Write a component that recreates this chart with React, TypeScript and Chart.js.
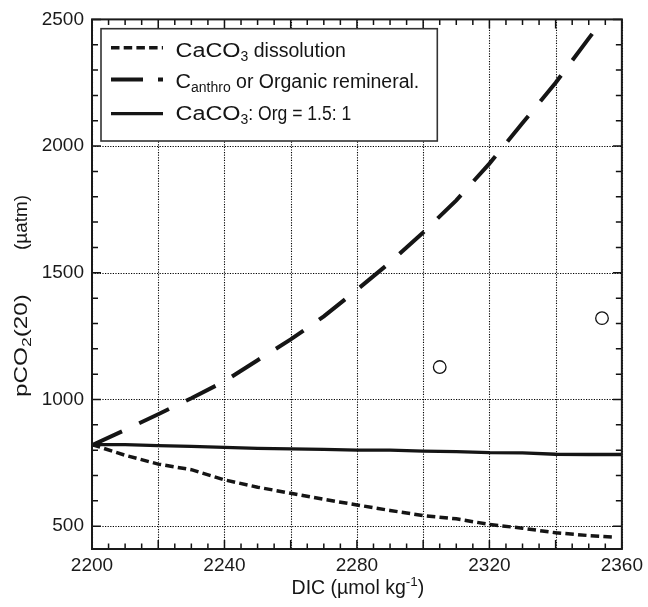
import { useEffect, useRef } from 'react';
import { Chart, registerables } from 'chart.js';

Chart.register(...registerables);

// DIC (µmol kg-1) steps shared by the two full-length model curves
const dicModel = [2200, 2210, 2220, 2230, 2240, 2250, 2260, 2270, 2280, 2290, 2300, 2310, 2320, 2330, 2340, 2350, 2360];
// pCO2(20) when adding Canthro or organic remineralisation
const pco2Anthro = [820, 880, 942, 1005, 1072, 1155, 1237, 1328, 1433, 1541, 1659, 1786, 1931, 2091, 2250, 2425, 2600];
// pCO2(20) for CaCO3 : Org = 1.5 : 1
const pco2Mixed = [822, 822, 818, 815, 811, 807, 805, 803, 800, 800, 796, 794, 790, 789, 784, 783, 783];

// CaCO3 dissolution curve (stops just short of the axis end)
const dicDissolution = [2200, 2210, 2220, 2230, 2240, 2250, 2260, 2270, 2280, 2290, 2300, 2310, 2320, 2330, 2340, 2350, 2358];
const pco2Dissolution = [822, 780, 745, 723, 683, 654, 630, 606, 584, 562, 542, 529, 507, 492, 474, 463, 457];

// Observed samples
const dicObserved = [2305, 2354];
const pco2Observed = [1128, 1321];

// Axes
const xMin = 2200;
const xMax = 2360;
const yMin = 410;
const yMax = 2500;
const xGrid = [2200, 2220, 2240, 2260, 2280, 2300, 2320, 2340, 2360];
const xLabels = [2200, 2240, 2280, 2320, 2360];
const yGrid = [500, 1000, 1500, 2000, 2500];
const xMinorStep = 5;
const xMajorStep = 20;
const yMinorStep = 100;
const yMajorStep = 500;

type Run = { text: string; size: number; dy?: number; sx?: number };

// Legend rows: rich text with sub/superscripts
const legendRows: Run[][] = [
  [
    { text: 'CaCO', size: 19.5, sx: 1.2 },
    { text: '3', size: 14, dy: 4.3 },
    { text: ' dissolution', size: 19.5 },
  ],
  [
    { text: 'C', size: 19.5, sx: 1.1 },
    { text: 'anthro', size: 14, dy: 3.6 },
    { text: ' or Organic remineral.', size: 19.5 },
  ],
  [
    { text: 'CaCO', size: 19.5, sx: 1.2 },
    { text: '3', size: 14, dy: 4.3 },
    { text: ': Org = 1.5: 1', size: 19.5, sx: 0.9 },
  ],
];

const xTitle: Run[] = [
  { text: 'DIC (µmol kg', size: 19.5 },
  { text: '-1', size: 13.5, dy: -7.5 },
  { text: ')', size: 19.5 },
];
const yTitleMain: Run[] = [
  { text: 'pCO', size: 18, sx: 1.35 },
  { text: '2', size: 13, dy: 4, sx: 1.35 },
  { text: '(20)', size: 18, sx: 1.35 },
];
const yTitleUnit: Run[] = [{ text: '(µatm)', size: 18, sx: 1.05 }];

const FONT = '"Liberation Sans", Arial, Helvetica, sans-serif';
const INK = '#151515';

function runsWidth(ctx: CanvasRenderingContext2D, runs: Run[]) {
  let w = 0;
  for (const r of runs) {
    ctx.font = `${r.size}px ${FONT}`;
    w += ctx.measureText(r.text).width * (r.sx ?? 1);
  }
  return w;
}

function drawRuns(ctx: CanvasRenderingContext2D, runs: Run[], x: number, y: number) {
  let cx = x;
  for (const r of runs) {
    ctx.font = `${r.size}px ${FONT}`;
    const sx = r.sx ?? 1;
    ctx.save();
    ctx.translate(cx, y + (r.dy ?? 0));
    ctx.scale(sx, 1);
    ctx.fillText(r.text, 0, 0);
    ctx.restore();
    cx += ctx.measureText(r.text).width * sx;
  }
  return cx;
}

const chartDecor = {
  id: 'chartDecor',
  beforeDatasetsDraw(chart: any) {
    const { ctx, chartArea, scales } = chart;
    const { left, right, top, bottom } = chartArea;
    ctx.save();
    ctx.strokeStyle = '#000';
    ctx.lineWidth = 1.1;
    ctx.setLineDash([1.2, 1.4]);
    for (const v of xGrid) {
      const px = Math.round(scales.x.getPixelForValue(v)) + 0.5;
      ctx.beginPath();
      ctx.moveTo(px, top);
      ctx.lineTo(px, bottom);
      ctx.stroke();
    }
    for (const v of yGrid) {
      const py = Math.round(scales.y.getPixelForValue(v)) + 0.5;
      ctx.beginPath();
      ctx.moveTo(left, py);
      ctx.lineTo(right, py);
      ctx.stroke();
    }
    ctx.restore();
  },
  afterDatasetsDraw(chart: any) {
    const { ctx, chartArea, scales } = chart;
    const { left, right, top, bottom } = chartArea;
    ctx.save();

    // inward tick marks on all four sides
    ctx.strokeStyle = '#111';
    ctx.lineWidth = 1.5;
    ctx.setLineDash([]);
    for (let v = xMin; v <= xMax; v += xMinorStep) {
      const px = scales.x.getPixelForValue(v);
      const len = v % xMajorStep === 0 ? 9 : 5.5;
      ctx.beginPath();
      ctx.moveTo(px, bottom);
      ctx.lineTo(px, bottom - len);
      ctx.moveTo(px, top);
      ctx.lineTo(px, top + len);
      ctx.stroke();
    }
    for (let v = Math.ceil(yMin / yMinorStep) * yMinorStep; v <= yMax; v += yMinorStep) {
      const py = scales.y.getPixelForValue(v);
      const len = v % yMajorStep === 0 ? 9 : 6;
      ctx.beginPath();
      ctx.moveTo(left, py);
      ctx.lineTo(left + len, py);
      ctx.moveTo(right, py);
      ctx.lineTo(right - len, py);
      ctx.stroke();
    }

    // plot frame
    ctx.lineWidth = 2;
    ctx.strokeStyle = '#1a1a1a';
    ctx.strokeRect(left, top, right - left, bottom - top);

    // legend
    const bx = left + 9;
    const by = top + 9.3;
    const bw = 336.3;
    const bh = 112.3;
    ctx.fillStyle = '#fff';
    ctx.fillRect(bx, by, bw, bh);
    ctx.lineWidth = 1.6;
    ctx.strokeStyle = '#333';
    ctx.strokeRect(bx, by, bw, bh);

    const baselines = [by + 28, by + 59.7, by + 91.3];
    const sampleY = [by + 19, by + 50.7, by + 85];
    legendRows.forEach((runs, i) => {
      const ds = chart.data.datasets[i];
      ctx.save();
      ctx.strokeStyle = ds.borderColor;
      ctx.lineWidth = ds.borderWidth;
      ctx.setLineDash(ds.legendDash ?? ds.borderDash ?? []);
      ctx.beginPath();
      ctx.moveTo(bx + 10, sampleY[i]);
      ctx.lineTo(bx + 62, sampleY[i]);
      ctx.stroke();
      ctx.restore();
      ctx.fillStyle = INK;
      ctx.textBaseline = 'alphabetic';
      ctx.textAlign = 'left';
      drawRuns(ctx, runs, bx + 74.5, baselines[i]);
    });

    // x axis title
    ctx.fillStyle = INK;
    const xw = runsWidth(ctx, xTitle);
    drawRuns(ctx, xTitle, (left + right) / 2 + 1 - xw / 2, 593.5);

    // y axis title (rotated)
    ctx.save();
    ctx.translate(26.5, 397);
    ctx.rotate(-Math.PI / 2);
    drawRuns(ctx, yTitleMain, 0, 0);
    const uw = runsWidth(ctx, yTitleUnit);
    drawRuns(ctx, yTitleUnit, 397 - 195 - uw, 0);
    ctx.restore();

    ctx.restore();
  },
};

export default function App() {
  const canvasRef = useRef<HTMLCanvasElement | null>(null);

  useEffect(() => {
    if (!canvasRef.current) return;
    const tickFont = { family: FONT, size: 19 };
    const chart = new Chart(canvasRef.current, {
      type: 'scatter',
      data: {
        datasets: [
          {
            label: 'CaCO3 dissolution',
            data: dicDissolution.map((x, i) => ({ x, y: pco2Dissolution[i] })),
            showLine: true,
            borderColor: INK,
            borderWidth: 3.5,
            borderDash: [8.5, 4.2],
            pointRadius: 0,
            tension: 0,
          } as any,
          {
            label: 'Canthro or Organic remineral.',
            data: dicModel.map((x, i) => ({ x, y: pco2Anthro[i] })),
            showLine: true,
            borderColor: INK,
            borderWidth: 4,
            borderDash: [33, 19],
            legendDash: [32, 15],
            pointRadius: 0,
            tension: 0,
          } as any,
          {
            label: 'CaCO3: Org = 1.5: 1',
            data: dicModel.map((x, i) => ({ x, y: pco2Mixed[i] })),
            showLine: true,
            borderColor: INK,
            borderWidth: 3.3,
            pointRadius: 0,
            tension: 0,
          } as any,
          {
            label: 'Observed',
            data: dicObserved.map((x, i) => ({ x, y: pco2Observed[i] })),
            showLine: false,
            pointStyle: 'circle',
            pointRadius: 6.3,
            pointBorderWidth: 1.3,
            pointBorderColor: '#111',
            pointBackgroundColor: 'rgba(255,255,255,0)',
          } as any,
        ],
      },
      options: {
        animation: false,
        responsive: true,
        maintainAspectRatio: false,
        layout: { padding: { top: 15.7, right: 22.3, left: 0, bottom: 0 } },
        plugins: {
          legend: { display: false },
          tooltip: { enabled: false },
        },
        scales: {
          x: {
            type: 'linear',
            min: xMin,
            max: xMax,
            afterBuildTicks: (s: any) => {
              s.ticks = xGrid.map((v) => ({ value: v }));
            },
            afterFit: (s: any) => {
              s.height = 58;
            },
            ticks: {
              autoSkip: false,
              maxRotation: 0,
              minRotation: 0,
              padding: 5,
              color: '#1a1a1a',
              font: tickFont,
              callback: (v: any) => (xLabels.includes(Number(v)) ? String(v) : ''),
            },
            grid: { display: false, drawTicks: false },
            border: { display: false },
          },
          y: {
            type: 'linear',
            min: yMin,
            max: yMax,
            afterBuildTicks: (s: any) => {
              s.ticks = yGrid.map((v) => ({ value: v }));
            },
            afterFit: (s: any) => {
              s.width = 92;
            },
            ticks: {
              padding: 8,
              color: '#1a1a1a',
              font: tickFont,
              callback: (v: any) => String(v),
            },
            grid: { display: false, drawTicks: false },
            border: { display: false },
          },
        },
      } as any,
      plugins: [chartDecor],
    });
    return () => chart.destroy();
  }, []);

  return (
    <div style={{ position: 'fixed', left: 0, top: 0, width: 648, height: 607, background: '#fff' }}>
      <canvas ref={canvasRef} />
    </div>
  );
}
